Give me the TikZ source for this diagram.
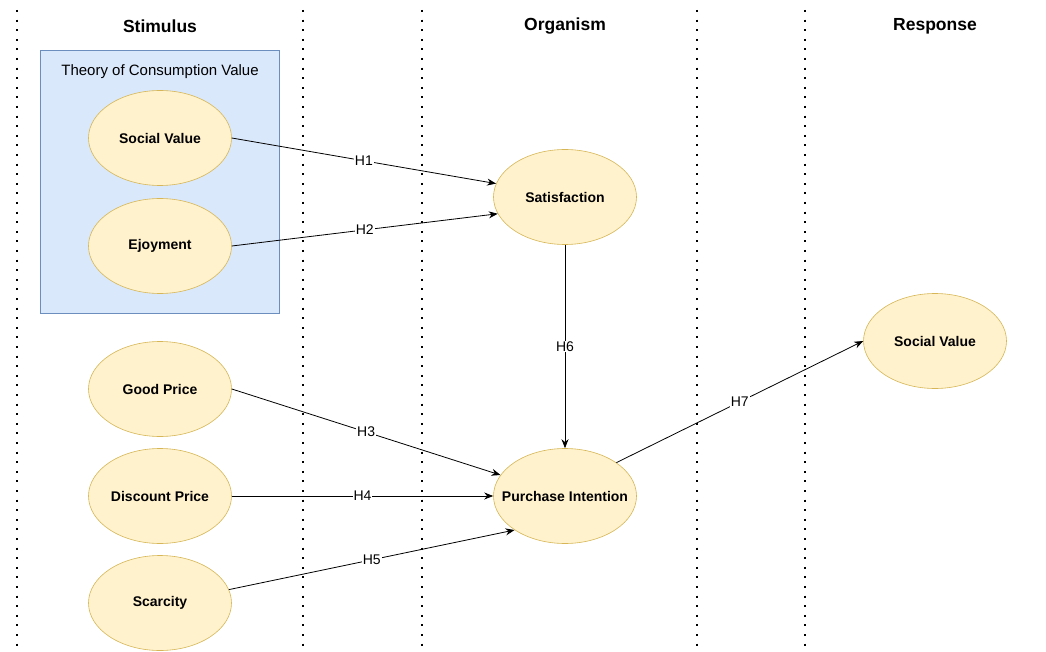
\documentclass[tikz,border=0pt]{standalone}
\usepackage{fontspec}
\setmainfont{Liberation Sans}
\definecolor{myyellow}{HTML}{FFF2CC}
\definecolor{mygold}{HTML}{D6B656}
\definecolor{myblue}{HTML}{DAE8FC}
\definecolor{mysteel}{HTML}{6C8EBF}
\usetikzlibrary{arrows.meta,shapes.geometric}
\tikzset{
    construct/.style={
           ellipse,
           fill=myyellow,
           draw=mygold, semithick,
           minimum width=143pt,
           minimum height=95pt,
           inner sep=0pt,
           text centered,
           font=\fontsize{14}{16}\selectfont\bfseries,
           },
    phase/.style={font=\fontsize{17.5}{20}\selectfont\bfseries},
    lane/.style={line width=2pt, dash pattern=on 2pt off 7.6pt},
    hyp/.style={fill=white, inner sep=1pt, font=\fontsize{14}{16}\selectfont},
}
\newcommand{\construct}[1]{\makebox[0pt]{#1}}
\newcommand{\hyp}[1]{\textrm{H#1}}

\begin{document}
\begin{tikzpicture}[x=1pt, y=-1pt, -{Stealth[length=9pt,width=7pt]}, line width=0.8pt]
      \useasboundingbox (0,0) rectangle (1046,652);
      % swim lanes
      \foreach \x in {17, 303, 422, 697, 805}
        \draw[lane, -] (\x,10) -- (\x,652);
      \node[phase] (S) at (160, 26) {Stimulus};
      \node[phase] (O) at (565, 26) {Organism};
      \node[phase] (R) at (935, 26) {Response};
      % theory box
      \draw[-, fill=myblue, draw=mysteel, semithick] (40,50) rectangle (279,313);
      \node[font=\fontsize{15}{17}\selectfont] (T) at (160, 72) {Theory of Consumption Value};
      \node[construct] (SV) at (160, 138) {\construct{Social Value}};
      \node[construct] (EJ) at (160, 246) {\construct{Ejoyment}};
      \node[construct] (GP) at (160, 389) {\construct{Good Price}};
      \node[construct] (DP) at (160, 496) {\construct{Discount Price}};
      \node[construct] (SC) at (160, 603) {\construct{Scarcity}};
      \node[construct] (SA) at (565, 197) {\construct{Satisfaction}};
      \node[construct] (PI) at (565, 496) {\construct{Purchase Intention}};
      \node[construct] (RS) at (935, 341) {\construct{Social Value}};
      \draw (SV.east) -- node[hyp]{\hyp{1}} (SA.169);
      \draw (EJ.east) -- node[hyp]{\hyp{2}} (SA.194);
      \draw (GP.east) -- node[hyp]{\hyp{3}} (PI.162);
      \draw (DP.east) -- node[hyp]{\hyp{4}} (PI.west);
      \draw (SC.11)   -- node[hyp]{\hyp{5}} (PI.214);
      \draw (SA.south) -- node[hyp]{\hyp{6}} (PI.north);
      \draw (PI.33)   -- node[hyp]{\hyp{7}} (RS.west);
    \end{tikzpicture}
\end{document}
